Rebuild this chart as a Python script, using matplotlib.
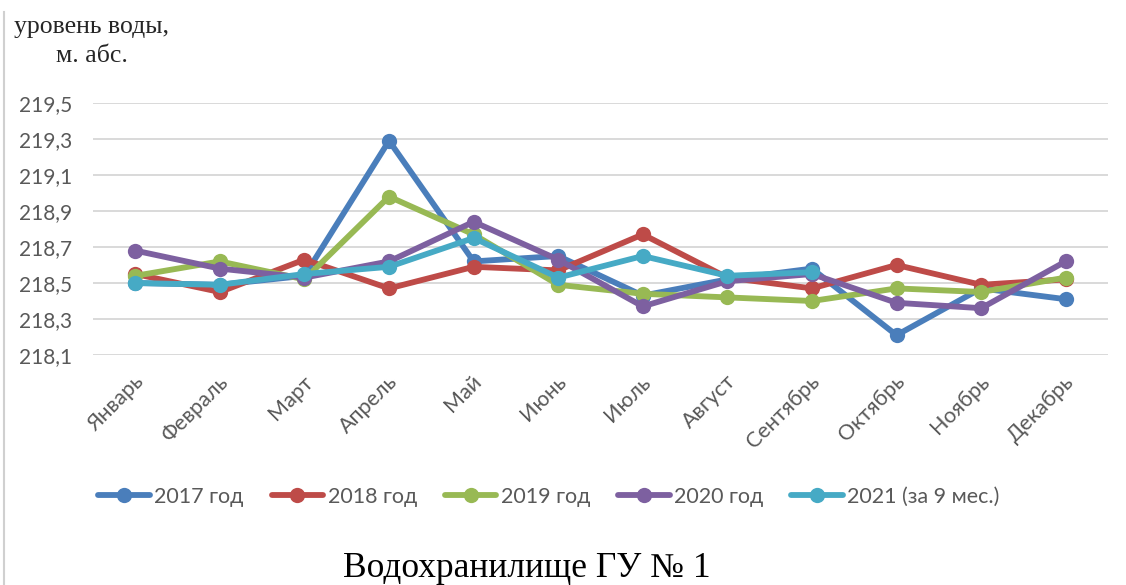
import numpy as np
import matplotlib
matplotlib.use("Agg")
import matplotlib.pyplot as plt
import matplotlib.transforms as mtransforms
from matplotlib.lines import Line2D
from matplotlib.ticker import FuncFormatter

# --- данные: уровень воды по месяцам, м абс. ---
months = ["Январь", "Февраль", "Март", "Апрель", "Май", "Июнь",
          "Июль", "Август", "Сентябрь", "Октябрь", "Ноябрь", "Декабрь"]

level_2017 = [218.50, 218.49, 218.54, 219.29, 218.62, 218.65,
              218.43, 218.52, 218.58, 218.21, 218.47, 218.41]
level_2018 = [218.55, 218.45, 218.63, 218.47, 218.59, 218.57,
              218.77, 218.53, 218.47, 218.60, 218.49, 218.52]
level_2019 = [218.54, 218.62, 218.52, 218.98, 218.77, 218.49,
              218.44, 218.42, 218.40, 218.47, 218.45, 218.53]
level_2020 = [218.68, 218.58, 218.53, 218.62, 218.84, 218.63,
              218.37, 218.51, 218.55, 218.39, 218.36, 218.62]
level_2021 = [218.50, 218.49, 218.55, 218.59, 218.75, 218.53,
              218.65, 218.54, 218.56]  # только 9 месяцев

series_labels = ["2017 год", "2018 год", "2019 год", "2020 год", "2021 (за 9 мес.)"]
series_values = [level_2017, level_2018, level_2019, level_2020, level_2021]
series_colors = ["#4A7EBB", "#BE4B48", "#98B954", "#7D60A0", "#46AAC5"]

y_ticks = [218.1, 218.3, 218.5, 218.7, 218.9, 219.1, 219.3, 219.5]

GRAY_TEXT = "#595959"
GRID = "#D9D9D9"

plt.rcParams["font.family"] = ["Lato", "DejaVu Sans"]

W, H = 1126, 585
fig = plt.figure(figsize=(W / 100, H / 100), dpi=100)

# область построения в пикселях: x 93..1108, y 103..355
ax = fig.add_axes([93 / W, (H - 355) / H, (1108 - 93) / W, (355 - 103) / H])

x = np.arange(len(months))
for vals, lab, col in zip(series_values, series_labels, series_colors):
    ax.plot(x[:len(vals)], vals, color=col, lw=4.2, marker="o", ms=11,
            markeredgewidth=0, label=lab, solid_joinstyle="round",
            solid_capstyle="round")

ax.set_xlim(-0.5, 11.5)
ax.set_ylim(218.1, 219.5)
ax.set_yticks(y_ticks)
ax.yaxis.set_major_formatter(FuncFormatter(lambda v, p: f"{v:.1f}".replace(".", ",")))
ax.grid(axis="y", color=GRID, lw=1.4)
ax.set_axisbelow(True)
for s in ax.spines.values():
    s.set_visible(False)

ax.tick_params(axis="y", length=0, pad=15, labelsize=15, labelcolor=GRAY_TEXT)
ax.tick_params(axis="x", length=0, pad=17, labelsize=15.5, labelcolor=GRAY_TEXT)
ax.set_xticks(x)
ax.set_xticklabels(months, rotation=45, ha="right", va="center",
                   rotation_mode="anchor")
# небольшой сдвиг подписей месяцев вправо
shift = mtransforms.ScaledTranslation(5 / 100, 0, fig.dpi_scale_trans)
for lbl in ax.get_xticklabels():
    lbl.set_transform(lbl.get_transform() + shift)

# подпись оси Y в левом верхнем углу
fig.text(92 / W, 1 - 33 / H, "уровень воды,", family="Liberation Serif",
         fontsize=18.5, color="#262626", ha="center", va="baseline")
fig.text(92 / W, 1 - 62 / H, "м. абс.", family="Liberation Serif",
         fontsize=18.5, color="#262626", ha="center", va="baseline")

# легенда под графиком
fig.legend(loc="center", bbox_to_anchor=(549 / W, 1 - 497 / H), ncol=5,
           frameon=False, fontsize=15.5, labelcolor=GRAY_TEXT,
           handlelength=2.4, handletextpad=0.2, columnspacing=1.3)

# название водохранилища
fig.text(527 / W, 1 - 577 / H, "Водохранилище ГУ № 1", family="Liberation Serif",
         fontsize=25.5, color="black", ha="center", va="baseline")

# левая граница рамки диаграммы
fig.add_artist(Line2D([3.5 / W, 3.5 / W], [0, 1 - 12 / H], color="#D0D0D0", lw=1.5))

fig.savefig("out.png", dpi=100, facecolor="white")
